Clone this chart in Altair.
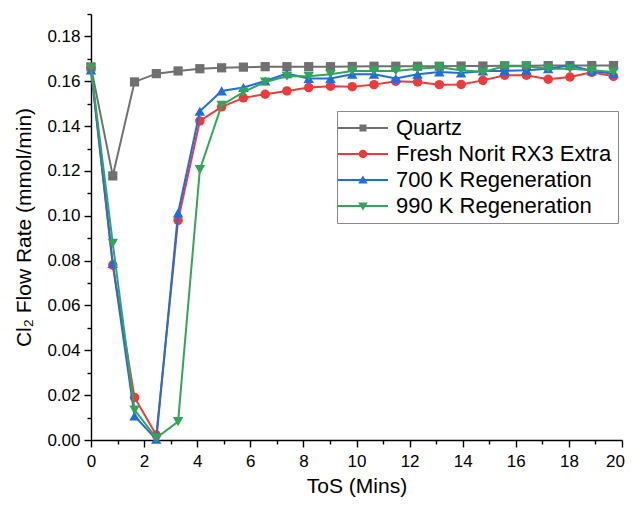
import altair as alt
import pandas as pd

tos = [0, 0.82, 1.64, 2.46, 3.28, 4.1, 4.92, 5.74, 6.56, 7.38, 8.2, 9.02, 9.84,
       10.66, 11.48, 12.3, 13.12, 13.94, 14.76, 15.58, 16.4, 17.22, 18.04, 18.86, 19.68]

series_names = ["Quartz", "Fresh Norit RX3 Extra", "700 K Regeneration", "990 K Regeneration"]
series_colors = ["#707070", "#EE3A3A", "#1E6EE0", "#33A55A"]
series_shapes = ["square", "circle", "triangle-up", "triangle-down"]
series_sizes = [85, 90, 110, 110]

quartz = [0.1664, 0.1178, 0.1597, 0.1634, 0.1646, 0.1656, 0.1660, 0.1663, 0.1665, 0.1665,
          0.1665, 0.1665, 0.1666, 0.1667, 0.1667, 0.1667, 0.1667, 0.1668, 0.1668, 0.1669,
          0.1669, 0.1670, 0.1670, 0.1670, 0.1670]
fresh = [0.1660, 0.0780, 0.0190, 0.0022, 0.0980, 0.1423, 0.1486, 0.1526, 0.1542, 0.1557,
         0.1572, 0.1578, 0.1576, 0.1585, 0.1600, 0.1597, 0.1585, 0.1586, 0.1604, 0.1627,
         0.1627, 0.1609, 0.1619, 0.1640, 0.1622]
regen700 = [0.1650, 0.0787, 0.0107, 0.0003, 0.1013, 0.1466, 0.1557, 0.1572, 0.1601, 0.1634,
            0.1612, 0.1612, 0.1631, 0.1631, 0.1612, 0.1631, 0.1641, 0.1637, 0.1646, 0.1646,
            0.1649, 0.1656, 0.1671, 0.1646, 0.1634]
regen990 = [0.1660, 0.0877, 0.0134, 0.0009, 0.0082, 0.1206, 0.1493, 0.1552, 0.1597, 0.1622,
            0.1622, 0.1631, 0.1646, 0.1646, 0.1646, 0.1656, 0.1663, 0.1649, 0.1641, 0.1667,
            0.1667, 0.1656, 0.1656, 0.1649, 0.1641]
all_values = [quartz, fresh, regen700, regen990]

x_tick_values = list(range(0, 21))
y_tick_values = [0.0, 0.01, 0.02, 0.03, 0.04, 0.05, 0.06, 0.07, 0.08, 0.09, 0.10,
                 0.11, 0.12, 0.13, 0.14, 0.15, 0.16, 0.17, 0.18, 0.19]

# legend symbols: a line segment with the series marker in its middle
LINE = "M-2.29,-0.14H4.85V0.14H-2.29Z "
legend_paths = [
    LINE + "M0.78,-0.5H1.78V0.5H0.78Z",
    LINE + "M0.68,0A0.6,0.6 0 1 1 1.88,0A0.6,0.6 0 1 1 0.68,0Z",
    LINE + "M1.28,-0.66L1.96,0.5H0.6Z",
    LINE + "M1.28,0.66L0.6,-0.5H1.96Z",
]

rows = []
for name, vals in zip(series_names, all_values):
    for t, v in zip(tos, vals):
        rows.append({"series": name, "tos": t, "flow": v})
df = pd.DataFrame(rows)

FONT = "Liberation Sans"

x_enc = alt.X("tos:Q", scale=alt.Scale(domain=[0, 20], nice=False),
              axis=alt.Axis(values=x_tick_values, title="ToS (Mins)", labelFlush=False,
                            labelExpr="datum.value % 2 == 0 ? datum.label : ''",
                            labelOffset={"condition": {"test": "datum.value == 20", "value": -7}, "value": 0},
                            tickSize={"condition": {"test": "datum.value % 2 == 0", "value": 7}, "value": 4},
                            labelPadding=6, titlePadding=6))
y_enc = alt.Y("flow:Q", scale=alt.Scale(domain=[0, 0.19], nice=False, zero=True),
              axis=alt.Axis(values=y_tick_values, title="Cl₂ Flow Rate (mmol/min)", labelFlush=False,
                            labelExpr="round(datum.value*100) % 2 == 0 ? format(datum.value, '.2f') : ''",
                            tickSize={"condition": {"test": "round(datum.value*100) % 2 == 0", "value": 7}, "value": 4},
                            labelPadding=4, titlePadding=12))

base = alt.Chart(df)
layers = []
for name, col, shp, sz in zip(series_names, series_colors, series_shapes, series_sizes):
    sub = base.transform_filter(alt.datum.series == name)
    layers.append(sub.mark_line(color=col, strokeWidth=2, clip=False).encode(x=x_enc, y=y_enc, order="tos:Q"))
    layers.append(sub.mark_point(color=col, filled=True, shape=shp, size=sz, opacity=1, clip=False)
                  .encode(x=x_enc, y=y_enc))

legend_layer = base.transform_filter("false").mark_point(filled=True, opacity=1).encode(
    x=x_enc, y=y_enc,
    color=alt.Color("series:N", scale=alt.Scale(domain=series_names, range=series_colors),
                    legend=alt.Legend(title=None, orient="none", legendX=246, legendY=97,
                                      symbolSize=196, symbolStrokeWidth=0, symbolOpacity=1,
                                      labelFontSize=22, labelFont=FONT, labelColor="black",
                                      labelOffset=31, labelLimit=0, rowPadding=4,
                                      strokeColor="#8a8a8a", fillColor="white", padding=6)),
    shape=alt.Shape("series:N", scale=alt.Scale(domain=series_names, range=legend_paths)),
)
layers.append(legend_layer)

chart = alt.layer(*layers).properties(
    width=531, height=426,
    autosize=alt.AutoSizeParams(type="none"),
    padding={"left": 83, "top": 6, "right": 3, "bottom": 58},
).configure_view(stroke=None).configure_axis(
    grid=False, domainColor="black", domainWidth=1.4, tickColor="black", tickWidth=1.4,
    labelFont=FONT, labelFontSize=17, labelColor="black",
    titleFont=FONT, titleFontSize=21, titleFontWeight="normal", titleColor="black",
)

chart.save("out.html", embed_options={"renderer": "svg", "actions": False})
